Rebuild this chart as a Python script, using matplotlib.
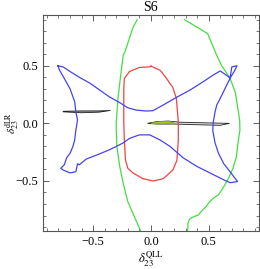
import numpy as np
import matplotlib.pyplot as plt
from matplotlib.ticker import MultipleLocator

plt.rcParams['font.family'] = ['Liberation Serif', 'DejaVu Serif']
plt.rcParams['mathtext.fontset'] = 'stix'

# ── data ─────────────────────────────────────────────────────────────────
green_left_x = [-0.12, -0.156, -0.225, -0.24, -0.265, -0.285, -0.30, -0.30, -0.295, -0.27,
                -0.24, -0.215, -0.20, -0.10, -0.08]
green_left_y = [0.90, 0.83, 0.62, 0.59, 0.39, 0.217, 0.014, -0.06, -0.20, -0.375,
                -0.52, -0.62, -0.68, -0.91, -0.96]

green_right_x = [0.29, 0.49, 0.57, 0.61, 0.685, 0.73, 0.757, 0.768, 0.77, 0.757, 0.74, 0.71,
                 0.67, 0.63, 0.585, 0.54, 0.50, 0.48, 0.44, 0.41, 0.37, 0.335, 0.32, 0.32, 0.315]
green_right_y = [0.90, 0.78, 0.59, 0.505, 0.39, 0.27, 0.10, 0.03, -0.06, -0.145, -0.29, -0.39,
                 -0.48, -0.55, -0.62, -0.65, -0.69, -0.72, -0.76, -0.795, -0.81, -0.83, -0.87, -0.91, -0.96]

red_x = [0.0, 0.08, 0.135, 0.19, 0.22, 0.237, 0.237, 0.225, 0.19, 0.107, 0.02, -0.07, -0.156,
         -0.20, -0.22, -0.23, -0.235, -0.235, -0.23, -0.185, -0.10, -0.01, 0.0]
red_y = [0.497, 0.46, 0.39, 0.31, 0.217, 0.014, -0.145, -0.32, -0.405, -0.48, -0.50, -0.48, -0.43,
         -0.39, -0.32, -0.145, 0.0, 0.30, 0.39, 0.45, 0.485, 0.49, 0.497]

blue_x = [-0.806, -0.76, -0.70, -0.62, -0.53, -0.445, -0.36, -0.27, -0.20, -0.127, -0.04, 0.017,
          0.107, 0.22, 0.34, 0.45, 0.54, 0.60, 0.685, 0.70, 0.745, 0.72, 0.69,
          0.64, 0.60, 0.57, 0.555, 0.54, 0.535, 0.555, 0.585, 0.63, 0.685, 0.73, 0.75,
          0.685, 0.63, 0.51, 0.40, 0.28, 0.165, 0.08, -0.01, -0.10, -0.185, -0.24,
          -0.36, -0.47, -0.56, -0.62, -0.635, -0.65, -0.70, -0.76, -0.78, -0.75, -0.73,
          -0.70, -0.675, -0.66, -0.65, -0.635, -0.65, -0.66, -0.675, -0.70, -0.75, -0.79, -0.806]
blue_y = [0.50, 0.49, 0.45, 0.40, 0.35, 0.29, 0.23, 0.18, 0.135, 0.115, 0.107, 0.11,
          0.16, 0.225, 0.29, 0.36, 0.42, 0.455, 0.395, 0.49, 0.50, 0.45, 0.40,
          0.30, 0.217, 0.16, 0.10, 0.014, -0.06, -0.17, -0.26, -0.35, -0.42, -0.48, -0.505,
          -0.515, -0.49, -0.43, -0.375, -0.30, -0.20, -0.145, -0.10, -0.10, -0.13, -0.17,
          -0.23, -0.275, -0.31, -0.36, -0.35, -0.42, -0.43, -0.405, -0.39, -0.36, -0.30,
          -0.26, -0.20, -0.145, -0.06, 0.03, 0.10, 0.19, 0.23, 0.30, 0.39, 0.46, 0.50]

band_left_x = [-0.76, -0.60, -0.45, -0.35, -0.45, -0.60, -0.76]
band_left_y = [0.105, 0.108, 0.108, 0.112, 0.097, 0.092, 0.100]

band_right_x = [-0.03, 0.05, 0.15, 0.25, 0.45, 0.68, 0.60, 0.40, 0.20, 0.05, -0.03]
band_right_y = [0.0, 0.015, 0.02, 0.01, 0.005, 0.0, -0.017, -0.012, -0.006, -0.006, 0.0]

band_green_x = [0.0, 0.05, 0.15, 0.20, 0.10, 0.02]
band_green_y = [0.0, 0.012, 0.018, 0.008, -0.003, -0.003]

ticks = [-0.5, 0.0, 0.5]
tick_labels = ['\u22120.5', '0.0', '0.5']

# ── figure ───────────────────────────────────────────────────────────────
fig = plt.figure(figsize=(2.6, 2.69), dpi=100)
ax = fig.add_axes([0.165, 0.141, 0.831, 0.803])

ax.plot(green_left_x, green_left_y, color='#44dd44', lw=0.9)
ax.plot(green_right_x, green_right_y, color='#44dd44', lw=0.9)
ax.plot(red_x, red_y, color='#ee4444', lw=0.9)
ax.plot(blue_x, blue_y, color='#4444ee', lw=0.9)

ax.fill(band_left_x, band_left_y, facecolor='#999999', edgecolor='#222222', lw=0.6)
ax.fill(band_right_x, band_right_y, facecolor='#e0e0e0', edgecolor='#222222', lw=0.6)
ax.fill(band_green_x, band_green_y, facecolor='#aacc22', edgecolor='#88aa11', lw=0.5)

ax.set_xlim(-0.935, 0.935)
ax.set_ylim(-0.935, 0.94)
ax.set_xticks(ticks)
ax.set_xticklabels(tick_labels)
ax.set_yticks(ticks)
ax.set_yticklabels(tick_labels)
ax.xaxis.set_minor_locator(MultipleLocator(0.1))
ax.yaxis.set_minor_locator(MultipleLocator(0.1))
ax.tick_params(which='both', direction='in', top=True, right=True, labelsize=9, colors='#444444')
ax.tick_params(which='major', length=4, width=0.6)
ax.tick_params(which='minor', length=2, width=0.5)
for t in ax.get_xticklabels() + ax.get_yticklabels():
    t.set_color('black')
for s in ax.spines.values():
    s.set_color('#555555')
    s.set_linewidth(0.8)

ax.set_title('S6', fontsize=10, pad=3)
ax.set_xlabel(r'$\delta_{23}^{\rm QLL}$', fontsize=9, labelpad=1)
ax.set_ylabel(r'$\delta_{23}^{\rm dLR}$', fontsize=8)
ax.yaxis.set_label_coords(-0.10, 0.5)

fig.savefig('out.png', dpi=100)
